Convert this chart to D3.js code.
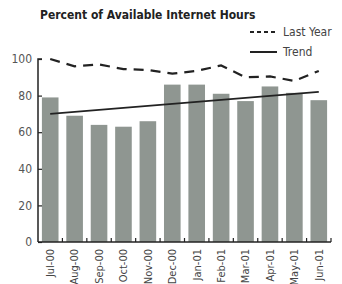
<!DOCTYPE html>
<html><head><meta charset="utf-8">
<script src="https://cdn.jsdelivr.net/npm/d3@7"></script>
<style>body{margin:0;background:#fff}svg{display:block}</style>
</head><body>
<script>
const months = ["Jul-00","Aug-00","Sep-00","Oct-00","Nov-00","Dec-00","Jan-01","Feb-01","Mar-01","Apr-01","May-01","Jun-01"];
const thisYear = [79, 69, 64, 63, 66, 86, 86, 81, 77, 85, 81.5, 77.5];
const lastYear = [100, 96, 97, 94.5, 94, 92, 93.5, 96.5, 90, 90.5, 88, 93.5];
const trendEnds = [70, 82];
const yTicks = [0, 20, 40, 60, 80, 100];

const W = 342, H = 284;
const m = {left: 38, right: 11, top: 59, bottom: 42};
const svg = d3.select("body").append("svg").attr("width", W).attr("height", H);

const x = d3.scaleBand().domain(months).range([m.left, W - m.right]).paddingInner(0.32).paddingOuter(0.16);
const y = d3.scaleLinear().domain([0, 100]).range([H - m.bottom, m.top]);

svg.append("text").attr("x", 40).attr("y", 19)
  .attr("font-family", "'DejaVu Sans Condensed', 'DejaVu Sans', sans-serif")
  .attr("font-weight", "bold").attr("font-size", 12).attr("fill", "#222")
  .text("Percent of Available Internet Hours");

// bars
svg.append("g").selectAll("rect").data(months).join("rect")
  .attr("x", d => x(d)).attr("width", x.bandwidth())
  .attr("y", (d, i) => y(thisYear[i])).attr("height", (d, i) => y(0) - y(thisYear[i]))
  .attr("fill", "#8f9691");

// y axis
const ya = svg.append("g").attr("transform", `translate(${m.left},0)`)
  .call(d3.axisRight(y).tickValues(yTicks).tickSize(4).tickFormat(""));
ya.select(".domain").attr("stroke", "#222").attr("stroke-width", 1.5).attr("d", `M4,${y(100)}H0V${y(0)}`);
ya.selectAll(".tick line").attr("stroke", "#222").attr("stroke-width", 1.2);
svg.append("g").selectAll("text").data(yTicks).join("text")
  .attr("x", m.left - 6).attr("y", d => y(d)).attr("dy", "0.35em")
  .attr("text-anchor", "end").attr("font-family", "'DejaVu Sans Condensed', sans-serif")
  .attr("font-size", 12).attr("fill", "#555").text(d => d);

// x axis
const step = x.step();
const bounds = months.map((d, i) => x(d) + x.bandwidth() + (step - x.bandwidth()) / 2);
const xa = svg.append("g").attr("transform", `translate(0,${y(0)})`);
xa.append("path").attr("d", `M${m.left},0H${W - m.right}`).attr("stroke", "#222").attr("stroke-width", 1.5);
xa.selectAll("line").data(bounds).join("line")
  .attr("x1", d => d).attr("x2", d => d).attr("y1", 0).attr("y2", -4)
  .attr("stroke", "#222").attr("stroke-width", 1.2);
svg.append("g").selectAll("text").data(months).join("text")
  .attr("transform", d => `translate(${x(d) + x.bandwidth() / 2},249) rotate(-90)`)
  .attr("text-anchor", "end").attr("dy", "0.35em")
  .attr("font-family", "'DejaVu Sans Condensed', sans-serif")
  .attr("font-size", 11).attr("fill", "#444").text(d => d);

// last year dashed line
const cx = d => x(d) + x.bandwidth() / 2;
svg.append("path").datum(months)
  .attr("d", d3.line().x(d => cx(d)).y((d, i) => y(lastYear[i])))
  .attr("fill", "none").attr("stroke", "#222").attr("stroke-width", 2.2)
  .attr("stroke-dasharray", "10,7");

// trend
const trendPts = [[months[0], trendEnds[0]], [months[months.length - 1], trendEnds[1]]];
svg.append("path").datum(trendPts)
  .attr("d", d3.line().x(d => cx(d[0])).y(d => y(d[1])))
  .attr("fill", "none").attr("stroke", "#222").attr("stroke-width", 1.8);

// legend
const lg = svg.append("g").attr("font-family", "'DejaVu Sans Condensed', sans-serif").attr("font-size", 12).attr("fill", "#444");
lg.append("line").attr("x1", 250).attr("x2", 277).attr("y1", 32).attr("y2", 32)
  .attr("stroke", "#222").attr("stroke-width", 2).attr("stroke-dasharray", "4,3");
lg.append("text").attr("x", 283).attr("y", 32).attr("dy", "0.35em").text("Last Year");
lg.append("line").attr("x1", 250).attr("x2", 277).attr("y1", 52).attr("y2", 52)
  .attr("stroke", "#222").attr("stroke-width", 2);
lg.append("text").attr("x", 283).attr("y", 52).attr("dy", "0.35em").text("Trend");
</script>
</body></html>
